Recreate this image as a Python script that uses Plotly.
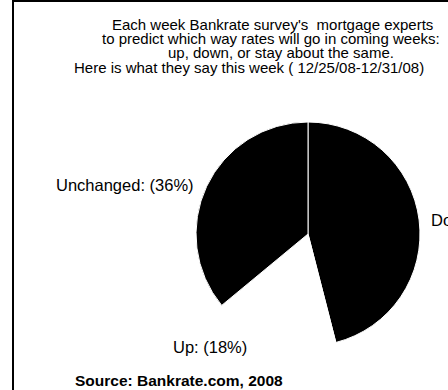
import plotly.graph_objects as go

W, H = 448, 390

# Survey answers
labels = ["Down", "Up", "Unchanged"]
shares = [46, 18, 36]
slice_colors = ["black", "white", "black"]

title_lines = [
    "Each week Bankrate survey's  mortgage experts",
    "to predict which way rates will go in coming weeks:",
    "up, down, or stay about the same.",
    "Here is what they say this week ( 12/25/08-12/31/08)",
]
source = "Source: Bankrate.com, 2008"

FONT = "Liberation Sans"


def px(x, y):
    # pixel position -> paper fractions
    return x / W, 1 - y / H


cx, cy, r = 308, 234, 112

fig = go.Figure(go.Pie(
    labels=labels,
    values=shares,
    sort=False,
    direction="clockwise",
    rotation=0,
    marker=dict(colors=slice_colors, line=dict(color="white", width=1)),
    textinfo="none",
    hoverinfo="label+percent",
    showlegend=False,
    domain=dict(x=[(cx - r) / W, (cx + r) / W],
                y=[1 - (cy + r) / H, 1 - (cy - r) / H]),
))

annotations = []
# the scanned title lines are not quite centred, so pin each by its left edge
title_left = [110, 100, 166, 72]
for i, line in enumerate(title_lines):
    x, y = px(title_left[i], 24 + i * 14.5)
    annotations.append(dict(x=x, y=y, text=line, xanchor="left", yanchor="middle",
                            font=dict(size=15, color="black")))

# slice labels placed around the pie
label_pos = {"Down": (429, 220, "left"), "Up": (210, 347, "center"), "Unchanged": (196, 185, "right")}
for lab, val in zip(labels, shares):
    lx, ly, anchor = label_pos[lab]
    x, y = px(lx, ly)
    annotations.append(dict(x=x, y=y, text=f"{lab}: ({val}%)", xanchor=anchor, yanchor="middle",
                            font=dict(size=16.5, color="black")))

x, y = px(73, 380)
annotations.append(dict(x=x, y=y, text=f"<b>{source}</b>", xanchor="left", yanchor="middle",
                        font=dict(size=15.5, color="black")))

for a in annotations:
    a.update(xref="paper", yref="paper", showarrow=False)

# frame lines from the scan
shapes = [
    dict(type="line", xref="paper", yref="paper", x0=13 / W, x1=13 / W, y0=0, y1=1,
         line=dict(color="black", width=2)),
    dict(type="line", xref="paper", yref="paper", x0=13 / W, x1=1, y0=1 - 1 / H, y1=1 - 1 / H,
         line=dict(color="black", width=2)),
]

fig.update_layout(
    width=W, height=H,
    margin=dict(l=0, r=0, t=0, b=0),
    paper_bgcolor="white",
    plot_bgcolor="white",
    font=dict(family=FONT, color="black"),
    annotations=annotations,
    shapes=shapes,
)

# page body margin would push the chart off the window
fig.write_html("out.html", config={"displayModeBar": False},
               post_script="document.body.style.margin='0';document.body.style.overflow='hidden';")
